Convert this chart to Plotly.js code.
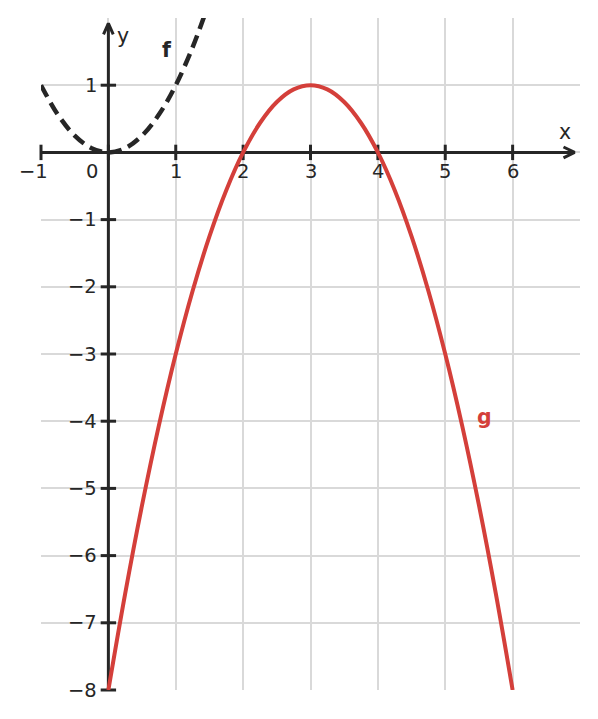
<!DOCTYPE html>
<html>
<head>
<meta charset="utf-8">
<script src="https://cdn.plot.ly/plotly-3.0.1.min.js"></script>
<style>html,body{margin:0;padding:0;background:#fff;}#chart{width:598px;height:719px;}</style>
</head>
<body>
<div id="chart"></div>
<script>
// Data
var fX = [-1, -0.75, -0.5, -0.25, 0, 0.25, 0.5, 0.75, 1, 1.25, 1.42];
var fY = [1, 0.5625, 0.25, 0.0625, 0, 0.0625, 0.25, 0.5625, 1, 1.5625, 2.02];
var gX = [0, 0.25, 0.5, 0.75, 1, 1.25, 1.5, 1.75, 2, 2.25, 2.5, 2.75, 3,
          3.25, 3.5, 3.75, 4, 4.25, 4.5, 4.75, 5, 5.25, 5.5, 5.75, 6];
var gY = [-8, -6.5625, -5.25, -4.0625, -3, -2.0625, -1.25, -0.5625, 0, 0.4375, 0.75, 0.9375, 1,
          0.9375, 0.75, 0.4375, 0, -0.5625, -1.25, -2.0625, -3, -4.0625, -5.25, -6.5625, -8];
var xTicks = [-1, 0, 1, 2, 3, 4, 5, 6];
var xTickLabels = ['\u22121', '0', '1', '2', '3', '4', '5', '6'];
var yTicks = [1, -1, -2, -3, -4, -5, -6, -7, -8];
var yTickLabels = ['1', '\u22121', '\u22122', '\u22123', '\u22124', '\u22125', '\u22126', '\u22127', '\u22128'];
var xRange = [-1, 7];
var yRange = [-8, 2];

var dark = '#262626';
var red = '#d43f3a';
var font = 'DejaVu Sans, sans-serif';

var xTip = 6.92, yTip = 1.92;
var traces = [];
// axis lines
traces.push({x: [xRange[0], xTip], y: [0, 0], mode: 'lines', line: {color: dark, width: 3}, hoverinfo: 'skip', showlegend: false});
traces.push({x: [0, 0], y: [yRange[0], yTip], mode: 'lines', line: {color: dark, width: 3}, hoverinfo: 'skip', showlegend: false});
// arrowheads
traces.push({x: [xTip - 0.165, xTip, xTip - 0.165], y: [0.08, 0, -0.08], mode: 'lines', line: {color: dark, width: 3}, hoverinfo: 'skip', showlegend: false});
traces.push({x: [-0.072, 0, 0.072], y: [yTip - 0.165, yTip, yTip - 0.165], mode: 'lines', line: {color: dark, width: 3}, hoverinfo: 'skip', showlegend: false});
// tick marks
traces.push({x: xTicks, y: xTicks.map(function(){return 0;}), mode: 'markers', marker: {symbol: 'line-ns', size: 11, line: {color: dark, width: 3}}, hoverinfo: 'skip', showlegend: false, cliponaxis: false});
traces.push({x: yTicks.map(function(){return 0;}), y: yTicks, mode: 'markers', marker: {symbol: 'line-ew', size: 11, line: {color: dark, width: 3}}, hoverinfo: 'skip', showlegend: false, cliponaxis: false});
// curves
traces.push({x: gX, y: gY, mode: 'lines', line: {color: red, width: 4, shape: 'spline', smoothing: 1}, hoverinfo: 'skip', showlegend: false});
traces.push({x: fX, y: fY, mode: 'lines', line: {color: dark, width: 4.5, dash: '13px,7px', shape: 'spline', smoothing: 1}, hoverinfo: 'skip', showlegend: false});

var ann = [];
var xShifts = {'-1': -8, '0': -16};
xTicks.forEach(function(v, i) {
  ann.push({x: v, y: 0, xref: 'x', yref: 'y', text: xTickLabels[i], showarrow: false,
    xanchor: 'center', yanchor: 'middle', yshift: -19, xshift: xShifts[String(v)] || 0,
    font: {family: font, size: 19.5, color: dark}});
});
yTicks.forEach(function(v, i) {
  ann.push({x: 0, y: v, xref: 'x', yref: 'y', text: yTickLabels[i], showarrow: false,
    xanchor: 'right', yanchor: 'middle', xshift: -9,
    font: {family: font, size: 19.5, color: dark}});
});
ann.push({x: 6.77, y: 0.30, xref: 'x', yref: 'y', text: 'x', showarrow: false, font: {family: font, size: 20.5, color: dark}});
ann.push({x: 0.21, y: 1.73, xref: 'x', yref: 'y', text: 'y', showarrow: false, font: {family: font, size: 20.5, color: dark}});
ann.push({x: 0.876, y: 1.52, xref: 'x', yref: 'y', text: '<b>f</b>', showarrow: false, font: {family: font, size: 20.5, color: dark}});
ann.push({x: 5.58, y: -3.94, xref: 'x', yref: 'y', text: '<b>g</b>', showarrow: false, font: {family: font, size: 20.5, color: red}});

var layout = {
  width: 598, height: 719,
  margin: {l: 41, r: 18, t: 18, b: 29, pad: 0},
  paper_bgcolor: '#fff', plot_bgcolor: '#fff',
  showlegend: false,
  xaxis: {range: xRange, tickmode: 'array', tickvals: xTicks, showticklabels: false, ticks: '',
    showgrid: true, gridcolor: '#d9d9d9', gridwidth: 2, zeroline: false, showline: false, fixedrange: true},
  yaxis: {range: yRange, tickmode: 'array', tickvals: yTicks.concat([0]), showticklabels: false, ticks: '',
    showgrid: true, gridcolor: '#d9d9d9', gridwidth: 2, zeroline: false, showline: false, fixedrange: true},
  annotations: ann
};
Plotly.newPlot('chart', traces, layout, {displayModeBar: false, staticPlot: true});
</script>
</body>
</html>
